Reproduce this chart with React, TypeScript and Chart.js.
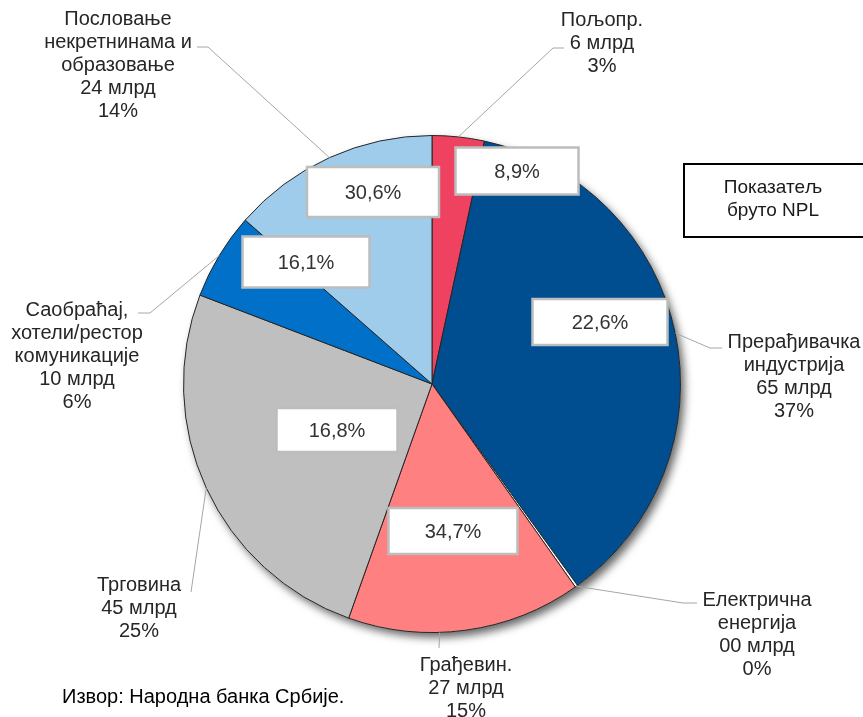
import React, { useEffect, useRef } from "react";
import { Chart, registerables } from "chart.js";

Chart.register(...registerables);

// ---- data ----
const categories = [
  ["Пољопр."],
  ["Прерађивачка", "индустрија"],
  ["Електрична", "енергија"],
  ["Грађевин."],
  ["Трговина"],
  ["Саобраћај,", "хотели/рестор", "комуникације"],
  ["Пословање", "некретнинама и", "образовање"],
];
const valuesBn = [6, 65, 0.3, 27, 45, 10, 24];
const valueLabels = ["6", "65", "00", "27", "45", "10", "24"];
const sharePct = ["3%", "37%", "0%", "15%", "25%", "6%", "14%"];
const nplRatio = ["8,9%", "22,6%", "", "34,7%", "16,8%", "16,1%", "30,6%"];
const colors = ["#EF4160", "#004D8F", "#FFFFFF", "#FF8080", "#BFBFBF", "#0070C8", "#9FCCEA"];
const sourceText = "Извор: Народна банка Србије.";
const boxTitle = ["Показатељ", "бруто NPL"];

// ---- layout (style) ----
const FONT = '"Liberation Sans", Arial, sans-serif';
// npl boxes: offset from pie centre, size
const boxLayout = [
  { dx: 85, dy: -213, w: 123, h: 47 },
  { dx: 168, dy: -62, w: 135, h: 46 },
  null,
  { dx: 21, dy: 147, w: 129, h: 46 },
  { dx: -95, dy: 46, w: 121, h: 44 },
  { dx: -126, dy: -122, w: 127, h: 51 },
  { dx: -59, dy: -192, w: 132, h: 50 },
];
// outer labels: text centre, first line y, leader path points after the anchor
const labelLayout = [
  { cx: 602, y0: 20, frac: 0.5, path: [[553, 48], [564, 48]] },
  { cx: 794, y0: 342, frac: 0.5, path: [[710, 348], [722, 348]] },
  { cx: 757, y0: 600, frac: 0.5, path: [[683, 603], [697, 603]] },
  { cx: 466, y0: 665, frac: 0.61, path: [[439, 648]] },
  { cx: 139, y0: 585, frac: 0.5, path: [[191, 592]] },
  { cx: 77, y0: 310, frac: 0.5, path: [[150, 313], [138, 313]] },
  { cx: 118, y0: 19, frac: 0.5, path: [[208, 47], [197, 47]] },
];
const LH = 23;

const annotPlugin = {
  id: "annot",
  beforeDatasetsDraw(chart: any) {
    const ctx = chart.ctx;
    const a = chart.getDatasetMeta(0).data[0];
    if (!a) return;
    const { x, y, outerRadius } = a.getProps(["x", "y", "outerRadius"], true);
    ctx.save();
    ctx.shadowColor = "rgba(0,0,0,0.6)";
    ctx.shadowBlur = 9;
    ctx.shadowOffsetX = 4;
    ctx.shadowOffsetY = 5;
    ctx.beginPath();
    ctx.arc(x, y, outerRadius, 0, Math.PI * 2);
    ctx.fillStyle = "#ffffff";
    ctx.fill();
    ctx.restore();
  },
  afterDatasetsDraw(chart: any) {
    const ctx = chart.ctx;
    const arcs = chart.getDatasetMeta(0).data;
    ctx.save();
    // leader lines + outer labels
    arcs.forEach((arc: any, i: number) => {
      const p = arc.getProps(["x", "y", "startAngle", "endAngle", "outerRadius"], true);
      const L = labelLayout[i];
      const ang = p.startAngle + L.frac * (p.endAngle - p.startAngle);
      const ax = p.x + p.outerRadius * Math.cos(ang);
      const ay = p.y + p.outerRadius * Math.sin(ang);
      ctx.beginPath();
      ctx.moveTo(ax, ay);
      L.path.forEach((pt) => ctx.lineTo(pt[0], pt[1]));
      ctx.strokeStyle = "#A6A6A6";
      ctx.lineWidth = 1;
      ctx.stroke();
      const lines = [...categories[i], valueLabels[i] + " млрд", sharePct[i]];
      ctx.fillStyle = "#262626";
      ctx.font = `20px ${FONT}`;
      ctx.textAlign = "center";
      ctx.textBaseline = "middle";
      lines.forEach((t, k) => ctx.fillText(t, L.cx, L.y0 + k * LH));
    });
    // npl boxes
    arcs.forEach((arc: any, i: number) => {
      const B = boxLayout[i];
      if (!B || !nplRatio[i]) return;
      const p = arc.getProps(["x", "y"], true);
      const cx = p.x + B.dx;
      const cy = p.y + B.dy;
      ctx.fillStyle = "#FFFFFF";
      ctx.fillRect(cx - B.w / 2, cy - B.h / 2, B.w, B.h);
      ctx.strokeStyle = "#BDBDBD";
      ctx.lineWidth = 2.5;
      ctx.strokeRect(cx - B.w / 2, cy - B.h / 2, B.w, B.h);
      ctx.fillStyle = "#333333";
      ctx.font = `20px ${FONT}`;
      ctx.textAlign = "center";
      ctx.textBaseline = "middle";
      ctx.fillText(nplRatio[i], cx, cy + 1);
    });
    // title box
    ctx.fillStyle = "#FFFFFF";
    ctx.fillRect(684, 164, 180, 73);
    ctx.strokeStyle = "#000000";
    ctx.lineWidth = 2;
    ctx.strokeRect(684, 164, 180, 73);
    ctx.fillStyle = "#1a1a1a";
    ctx.font = `19px ${FONT}`;
    ctx.textAlign = "center";
    ctx.textBaseline = "middle";
    ctx.fillText(boxTitle[0], 773, 188);
    ctx.fillText(boxTitle[1], 773, 211);
    // source
    ctx.fillStyle = "#000000";
    ctx.font = `20px ${FONT}`;
    ctx.textAlign = "left";
    ctx.fillText(sourceText, 62, 697);
    ctx.restore();
  },
};

export default function App() {
  const ref = useRef<HTMLCanvasElement | null>(null);
  useEffect(() => {
    if (!ref.current) return;
    const chart = new Chart(ref.current, {
      type: "pie",
      data: {
        labels: categories.map((c) => c.join(" ")),
        datasets: [
          {
            data: valuesBn,
            backgroundColor: colors,
            borderColor: "#262626",
            borderWidth: 1,
          },
        ],
      },
      options: {
        responsive: false,
        animation: false,
        layout: { padding: { left: 183, right: 182, top: 135, bottom: 84 } },
        plugins: { legend: { display: false }, tooltip: { enabled: false } },
      },
      plugins: [annotPlugin],
    });
    return () => chart.destroy();
  }, []);
  return (
    <div style={{ position: "absolute", left: 0, top: 0, width: 863, height: 717, background: "#fff" }}>
      <canvas ref={ref} width={863} height={717} />
    </div>
  );
}
